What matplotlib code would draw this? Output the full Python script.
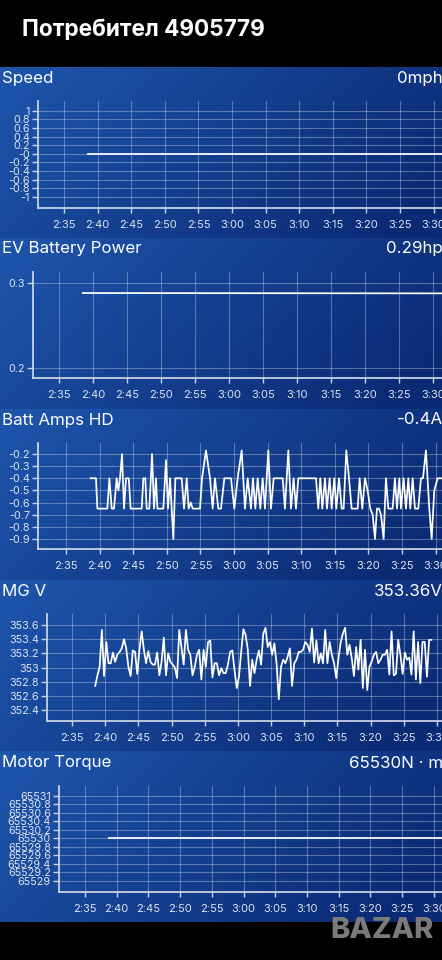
import numpy as np
import matplotlib.pyplot as plt
from matplotlib.ticker import FixedLocator, FixedFormatter, FuncFormatter

plt.rcParams['font.family'] = ['Inter', 'DejaVu Sans']

W, H = 442, 960

# x values are minutes after 2:00
time_ticks = [35, 40, 45, 50, 55, 60, 65, 70, 75, 80, 85, 90]

# Speed
speed_t = [38.6, 91.5]
speed_v = [0, 0]
speed_ticks = [1, 0.8, 0.6, 0.4, 0.2, 0, -0.2, -0.4, -0.6, -0.8, -1]
speed_labels = ['1', '0.8', '0.6', '0.4', '0.2', '-0', '-0.2', '-0.4', '-0.6', '-0.8', '-1']

# EV Battery Power
ev_t = [38.5, 91.5]
ev_v = [0.2882, 0.2878]
ev_ticks = [0.3, 0.2]
ev_labels = ['0.3', '0.2']

# Batt Amps HD
batt_t = [38.67, 39.46, 39.66, 41.15, 41.45, 41.80, 42.14, 42.54, 42.79, 43.04,
          43.33, 43.63, 43.93, 44.33, 44.62, 46.26, 46.51, 46.80, 47.00, 47.40,
          47.80, 48.09, 48.39, 48.59, 49.48, 49.88, 50.18, 50.48, 50.72, 50.97,
          51.27, 52.21, 52.56, 52.96, 53.25, 53.55, 53.85, 54.94, 55.24, 55.83,
          56.43, 56.82, 57.17, 57.66, 58.06,
          58.56, 59.55, 60.04, 60.54, 61.14, 61.63, 62.03, 62.52, 62.82, 63.17,
          63.52, 63.91, 64.26, 64.61, 65.10, 65.50, 65.90, 67.24, 67.58, 68.08,
          68.48, 68.87, 69.22, 69.57, 72.20, 72.54, 72.84, 73.14, 73.54, 73.83,
          74.23, 74.53, 74.92, 75.22, 75.62, 76.02, 76.31, 76.71, 77.11, 77.50,
          78.40, 78.69, 79.09, 79.49, 79.88, 80.28, 80.63, 80.98, 81.27, 81.57,
          81.87, 82.26, 82.61, 82.96, 83.60, 83.95, 84.25, 84.60, 84.84, 85.24,
          85.59, 85.94, 86.23, 86.58, 86.93, 87.42, 87.82, 88.12, 88.56, 89.06,
          89.41, 89.80, 90.30, 90.94]
batt_v = [-0.4, -0.4, -0.65, -0.65, -0.4, -0.65, -0.65, -0.4, -0.5, -0.4,
          -0.2, -0.65, -0.4, -0.4, -0.65, -0.65, -0.4, -0.4, -0.65, -0.65,
          -0.2, -0.65, -0.4, -0.65, -0.65, -0.25, -0.65, -0.4, -0.65, -0.9,
          -0.4, -0.4, -0.65, -0.4, -0.65, -0.6, -0.65, -0.65, -0.4, -0.17,
          -0.4, -0.65, -0.4, -0.65, -0.65,
          -0.4, -0.4, -0.65, -0.4, -0.17, -0.65, -0.4, -0.65, -0.4, -0.65,
          -0.4, -0.65, -0.4, -0.65, -0.17, -0.65, -0.4, -0.4, -0.65, -0.17,
          -0.65, -0.4, -0.65, -0.4, -0.4, -0.65, -0.4, -0.65, -0.4, -0.65,
          -0.4, -0.65, -0.4, -0.65, -0.4, -0.65, -0.65, -0.17, -0.4, -0.65,
          -0.65, -0.4, -0.65, -0.4, -0.5, -0.65, -0.7, -0.9, -0.65, -0.65,
          -0.7, -0.9, -0.4, -0.65, -0.65, -0.4, -0.65, -0.4, -0.65, -0.4,
          -0.65, -0.4, -0.65, -0.4, -0.65, -0.65, -0.4, -0.4, -0.17, -0.65,
          -0.9, -0.5, -0.4, -0.4]
batt_ticks = [-0.2, -0.3, -0.4, -0.5, -0.6, -0.7, -0.8, -0.9]
batt_labels = ['-0.2', '-0.3', '-0.4', '-0.5', '-0.6', '-0.7', '-0.8', '-0.9']

# MG V, one reading every 20 s from 2:38:30
mgv_start = 38.5
mgv_step = 1 / 3
mgv_v = [352.74, 352.89, 353.01, 353.53, 352.88, 353.36, 353.06, 353.06, 353.21, 353.08,
         353.18, 353.22, 353.27, 353.40, 353.27, 353.01, 352.88, 353.24, 353.22, 352.91,
         353.25, 353.51, 353.25, 353.06, 353.23, 353.08, 353.04, 353.04, 353.21, 352.89,
         353.08, 353.42, 352.89, 353.20, 353.08, 353.04, 353.00, 352.85, 353.53, 353.29,
         353.04, 353.53, 353.25, 353.18, 352.89, 353.01, 353.18, 353.25, 352.83, 353.25,
         353.01, 353.36, 353.38, 352.86, 353.06, 353.06, 352.89,
         352.99, 352.92, 352.92, 353.04, 353.22, 353.24, 352.96, 352.71, 352.87, 353.22,
         353.54, 353.46, 353.25, 352.74, 353.11, 352.92, 353.11, 353.24, 353.04, 353.48,
         353.56, 353.29, 353.36, 353.18, 353.34, 353.06, 352.55, 353.01, 353.11, 353.06,
         353.15, 353.27, 352.74, 353.06, 353.11, 353.22, 353.22, 353.25, 353.36, 353.32,
         353.22, 353.55, 353.07, 353.38, 353.06, 353.20, 353.06, 353.53, 353.06, 353.36,
         353.18, 353.06, 352.85, 353.13, 353.36, 353.48, 353.56, 353.18, 353.32, 353.13,
         352.88, 353.29, 352.97, 353.39, 352.71, 353.25, 352.68, 353.01, 353.08, 353.18,
         353.22, 353.06, 353.11, 353.18, 353.18, 353.25, 352.90, 353.51, 352.89, 352.91,
         353.39, 353.18, 352.91, 353.21, 353.11, 353.14, 352.90, 353.51, 352.83, 353.36,
         352.78, 353.36, 353.36, 352.87, 353.39, 353.39]
mgv_t = mgv_start + mgv_step * np.arange(len(mgv_v))
mgv_ticks = [353.6, 353.4, 353.2, 353.0, 352.8, 352.6, 352.4]
mgv_labels = ['353.6', '353.4', '353.2', '353', '352.8', '352.6', '352.4']

# Motor Torque
torque_t = [38.8, 91.5]
torque_v = [65530, 65530]
torque_ticks = [65531, 65530.8, 65530.6, 65530.4, 65530.2, 65530,
                65529.8, 65529.6, 65529.4, 65529.2, 65529]
torque_labels = ['65531', '65530.8', '65530.6', '65530.4', '65530.2', '65530',
                 '65529.8', '65529.6', '65529.4', '65529.2', '65529']

panels = [
    dict(title='Speed', value='0mph', t=speed_t, v=speed_v, ticks=speed_ticks,
         labels=speed_labels, x0=38, top=101, bottom=208, title_y=78,
         xlim=(31.13, 91.25), ylim=(-1.26, 1.23)),
    dict(title='EV Battery Power', value='0.29hp', t=ev_t, v=ev_v, ticks=ev_ticks,
         labels=ev_labels, x0=33, top=272, bottom=378, title_y=249,
         xlim=(31.18, 91.32), ylim=(0.188, 0.313)),
    dict(title='Batt Amps HD', value='-0.4A', t=batt_t, v=batt_v, ticks=batt_ticks,
         labels=batt_labels, x0=38, top=443, bottom=549, title_y=420,
         xlim=(30.83, 90.95), ylim=(-0.983, -0.109)),
    dict(title='MG V', value='353.36V', t=mgv_t, v=mgv_v, ticks=mgv_ticks,
         labels=mgv_labels, x0=47, top=614, bottom=721, title_y=591,
         xlim=(31.23, 90.77), ylim=(352.245, 353.755)),
    dict(title='Motor Torque', value='65530N · m', t=torque_t, v=torque_v,
         ticks=torque_ticks, labels=torque_labels, x0=59, top=786, bottom=892,
         title_y=763, xlim=(30.9, 91.3), ylim=(65528.73, 65531.23)),
]

fig = plt.figure(figsize=(W / 100, H / 100), dpi=100, facecolor='black')

# blue gradient behind each panel
bands = [67, 238, 409, 580, 751, 922]
light = np.array([30, 86, 172]) / 255
dark = np.array([11, 42, 116]) / 255
img = np.zeros((H, W, 3))
xx = np.linspace(0, 1, W)
for top, bot in zip(bands[:-1], bands[1:]):
    yy = np.linspace(0, 1, bot - top)[:, None]
    s = np.clip(0.8 * xx[None, :] + 0.3 * yy, 0, 1)
    img[top:bot] = light + (dark - light) * s[..., None]
bg = fig.add_axes([0, 0, 1, 1])
bg.imshow(img, extent=(0, W, H, 0), aspect='auto')
bg.set_xlim(0, W)
bg.set_ylim(H, 0)
bg.axis('off')

def fx(x):
    return x / W

def fy(y):
    return 1 - y / H

fig.text(fx(22), fy(30), 'Потребител 4905779', color='white', fontsize=16.3,
         fontweight='bold', ha='left', va='center')

def time_label(m, pos):
    m = int(round(m))
    return f'{2 + m // 60}:{m % 60:02d}'

spine_col = '#c8d2e6'
tick_col = '#dce3f0'

for p in panels:
    fig.text(fx(2), fy(p['title_y']), p['title'], color='white', fontsize=12.2,
             ha='left', va='center')
    fig.text(fx(443), fy(p['title_y']), p['value'], color='white', fontsize=12.2,
             ha='right', va='center')

    ax = fig.add_axes([fx(p['x0']), fy(p['bottom']), (W - p['x0']) / W,
                       (p['bottom'] - p['top']) / H])
    ax.patch.set_alpha(0)
    ax.plot(p['t'], p['v'], color='white', lw=1.25)
    ax.set_xlim(*p['xlim'])
    ax.set_ylim(*p['ylim'])
    ax.xaxis.set_major_locator(FixedLocator(time_ticks))
    ax.xaxis.set_major_formatter(FuncFormatter(time_label))
    ax.yaxis.set_major_locator(FixedLocator(p['ticks']))
    ax.yaxis.set_major_formatter(FixedFormatter(p['labels']))
    ax.grid(True, color='white', alpha=0.3, lw=0.8)
    for side in ['top', 'right']:
        ax.spines[side].set_visible(False)
    for side in ['left', 'bottom']:
        ax.spines[side].set_color(spine_col)
        ax.spines[side].set_linewidth(1.3)
    ax.tick_params(axis='x', colors=spine_col, labelcolor=tick_col, labelsize=8,
                   length=3.5, width=1, pad=5)
    ax.tick_params(axis='y', colors=spine_col, labelcolor=tick_col, labelsize=7.8,
                   length=4.3, width=1, pad=1.5)

# watermark in the bottom bar
fig.text(fx(382), fy(931), 'BAZAR', color='#7a7a7a', fontsize=21,
         fontweight='heavy', ha='center', va='center')

fig.savefig('out.png', dpi=100, facecolor='black')
